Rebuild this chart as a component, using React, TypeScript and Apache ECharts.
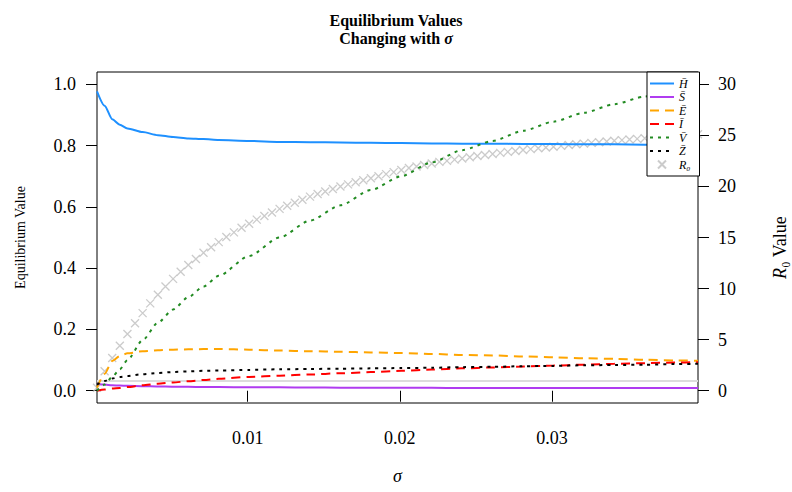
import React, { useEffect, useRef } from "react";
import * as echarts from "echarts";

// sigma grid for the R0 markers
const sigma = [
  0.0001, 0.0006, 0.0011, 0.0016, 0.0021, 0.0026, 0.0031, 0.0036, 0.0041, 0.0046,
  0.0051, 0.0056, 0.0061, 0.0066, 0.0071, 0.0076, 0.0081, 0.0086, 0.0091, 0.0096,
  0.0101, 0.0106, 0.0111, 0.0116, 0.0121, 0.0126, 0.0131, 0.0136, 0.0141, 0.0146,
  0.0151, 0.0156, 0.0161, 0.0166, 0.0171, 0.0176, 0.0181, 0.0186, 0.0191, 0.0196,
  0.0201, 0.0206, 0.0211, 0.0216, 0.0221, 0.0226, 0.0231, 0.0236, 0.0241, 0.0246,
  0.0251, 0.0256, 0.0261, 0.0266, 0.0271, 0.0276, 0.0281, 0.0286, 0.0291, 0.0296,
  0.0301, 0.0306, 0.0311, 0.0316, 0.0321, 0.0326, 0.0331, 0.0336, 0.0341, 0.0346,
  0.0351, 0.0356, 0.0361, 0.0366, 0.0371, 0.0376, 0.0381, 0.0386, 0.0391, 0.0396,
];
const R0 = [
  0.3, 1.9, 3.2, 4.4, 5.55, 6.6, 7.6, 8.55, 9.4, 10.2,
  10.95, 11.65, 12.3, 12.9, 13.5, 14.05, 14.55, 15.05, 15.5, 15.95,
  16.35, 16.75, 17.1, 17.45, 17.8, 18.1, 18.4, 18.7, 19.0, 19.25,
  19.5, 19.75, 20.0, 20.2, 20.4, 20.6, 20.8, 21.0, 21.2, 21.4,
  21.6, 21.8, 21.95, 22.1, 22.25, 22.4, 22.5, 22.62, 22.74, 22.86,
  22.97, 23.08, 23.18, 23.28, 23.38, 23.47, 23.56, 23.65, 23.73, 23.81,
  23.89, 23.97, 24.05, 24.12, 24.19, 24.26, 24.33, 24.4, 24.47, 24.53,
  24.59, 24.65, 24.71, 24.77, 24.83, 24.89, 24.94, 25.0, 25.05, 25.1,
];

// sigma grid for the equilibrium curves
const sigmaLine = [
  0.0001, 0.0006, 0.0011, 0.0016, 0.0021, 0.0031, 0.0041, 0.0051, 0.0061, 0.0071,
  0.0081, 0.0101, 0.0121, 0.0141, 0.0161, 0.0181, 0.0201, 0.0221, 0.0241, 0.0261,
  0.0281, 0.0301, 0.0321, 0.0341, 0.0361, 0.0381, 0.0396,
];
const Hbar = [0.977, 0.93, 0.886, 0.868, 0.856, 0.844, 0.834, 0.828, 0.823, 0.821, 0.818, 0.815, 0.812, 0.811, 0.81, 0.809, 0.808, 0.807, 0.806, 0.806, 0.805, 0.805, 0.804, 0.804, 0.803, 0.803, 0.803];
const Sbar = [0.023, 0.02, 0.018, 0.017, 0.016, 0.015, 0.014, 0.013, 0.013, 0.012, 0.012, 0.011, 0.011, 0.0105, 0.01, 0.01, 0.0095, 0.0094, 0.0093, 0.0092, 0.0091, 0.009, 0.009, 0.0089, 0.0089, 0.0088, 0.0088];
const Ebar = [0.01, 0.055, 0.097, 0.113, 0.122, 0.129, 0.132, 0.134, 0.135, 0.136, 0.136, 0.134, 0.131, 0.129, 0.127, 0.125, 0.123, 0.12, 0.117, 0.115, 0.112, 0.109, 0.106, 0.104, 0.101, 0.099, 0.098];
const Ibar = [0, 0.004, 0.007, 0.009, 0.012, 0.018, 0.023, 0.027, 0.031, 0.035, 0.039, 0.045, 0.049, 0.053, 0.057, 0.061, 0.065, 0.069, 0.073, 0.076, 0.079, 0.082, 0.085, 0.088, 0.09, 0.092, 0.093];
const Vbar = [0, 0.02, 0.045, 0.07, 0.1, 0.165, 0.222, 0.265, 0.305, 0.34, 0.375, 0.44, 0.5, 0.555, 0.605, 0.655, 0.7, 0.745, 0.785, 0.815, 0.848, 0.878, 0.907, 0.935, 0.96, 0.983, 1.0];
const Zbar = [0.02, 0.032, 0.04, 0.045, 0.048, 0.054, 0.058, 0.061, 0.063, 0.065, 0.066, 0.068, 0.07, 0.071, 0.072, 0.073, 0.074, 0.075, 0.077, 0.078, 0.08, 0.081, 0.083, 0.084, 0.085, 0.087, 0.088];

const xTicks = [0.01, 0.02, 0.03];
const yLeftTicks = [0, 0.2, 0.4, 0.6, 0.8, 1.0];
const yRightTicks = [0, 5, 10, 15, 20, 25, 30];

const NAMES = ["H\u0304", "S\u0304", "E\u0304", "I\u0304", "V\u0304", "Z\u0304", "R\u2080"];
const FONT = "Liberation Serif";

const zip = (xs: number[], ys: number[]) => xs.map((x, i) => [x, ys[i]]);

function lineSeries(name: string, ys: number[], color: string, type: any) {
  return {
    name,
    type: "line",
    xAxisIndex: 0,
    yAxisIndex: 0,
    data: zip(sigmaLine, ys),
    symbol: "none",
    showSymbol: false,
    smooth: 0.25,
    smoothMonotone: "x",
    z: 3,
    itemStyle: { color },
    lineStyle: { color, width: 2, type },
  };
}

export default function App() {
  const ref = useRef<HTMLDivElement>(null);
  useEffect(() => {
    const chart = echarts.init(ref.current!, null, { renderer: "svg" });
    const axisLabelBase = { fontFamily: FONT, fontSize: 18, color: "#000" };
    const legendData = NAMES.map((n, i) =>
      i < 6 ? { name: n, itemStyle: { opacity: 0 } } : { name: n }
    );
    const option: any = {
      animation: false,
      backgroundColor: "#fff",
      title: {
        left: "center",
        top: 6,
        text: "{b|Equilibrium Values}\n{b|Changing with }{i|\u03c3}",
        textStyle: {
          rich: {
            b: { fontFamily: FONT, fontWeight: "bold", fontSize: 16, lineHeight: 18, color: "#000" },
            i: { fontFamily: FONT, fontStyle: "italic", fontSize: 16, lineHeight: 18, color: "#000" },
          },
        },
      },
      grid: {
        left: 97,
        right: 94,
        top: 72,
        bottom: 89,
        show: true,
        borderColor: "#000",
        borderWidth: 1,
        backgroundColor: "transparent",
        outerBoundsMode: "none",
        containLabel: false,
      },
      legend: {
        orient: "vertical",
        left: 647,
        top: 72,
        padding: [5, 9, 5, 2],
        itemGap: 0.5,
        itemWidth: 24,
        itemHeight: 8,
        backgroundColor: "#fff",
        borderColor: "#000",
        borderWidth: 1,
        borderRadius: 0,
        z: 10,
        data: legendData,
        textStyle: { fontFamily: FONT, fontStyle: "italic", fontSize: 12, lineHeight: 13, color: "#000" },
      },
      xAxis: {
        type: "value",
        min: 0.0001,
        max: 0.0396,
        name: "\u03c3",
        nameLocation: "middle",
        nameGap: 64,
        nameTextStyle: { fontFamily: FONT, fontStyle: "italic", fontSize: 18, color: "#000" },
        axisLine: { show: false },
        splitLine: { show: false },
        axisTick: { show: true, length: 11, customValues: xTicks, lineStyle: { color: "#000", width: 1 } },
        axisLabel: {
          ...axisLabelBase,
          margin: 26,
          customValues: xTicks,
          formatter: (v: number) => v.toFixed(2),
        },
      },
      yAxis: [
        {
          type: "value",
          min: -0.04,
          max: 1.04,
          position: "left",
          name: "Equilibrium Value",
          nameLocation: "middle",
          nameRotate: 90,
          nameGap: 70,
          nameTextStyle: { fontFamily: FONT, fontSize: 14, color: "#000" },
          axisLine: { show: false },
          splitLine: { show: false },
          axisTick: { show: true, length: 11, customValues: yLeftTicks, lineStyle: { color: "#000", width: 1 } },
          axisLabel: {
            ...axisLabelBase,
            margin: 21,
            customValues: yLeftTicks,
            formatter: (v: number) => v.toFixed(1),
          },
        },
        {
          type: "value",
          min: -1.2,
          max: 31.2,
          position: "right",
          name: "{i|R}{n|\u2080 Value}",
          nameLocation: "middle",
          nameRotate: 90,
          nameGap: 73,
          nameTextStyle: {
            color: "#000",
            padding: [0, 20, 0, 0],
            rich: {
              i: { fontFamily: FONT, fontStyle: "italic", fontSize: 18, color: "#000" },
              n: { fontFamily: FONT, fontSize: 18, color: "#000" },
            },
          },
          axisLine: { show: false },
          splitLine: { show: false },
          axisTick: { show: true, length: 11, customValues: yRightTicks, lineStyle: { color: "#000", width: 1 } },
          axisLabel: {
            ...axisLabelBase,
            margin: 20,
            customValues: yRightTicks,
          },
        },
      ],
      series: [
        {
          name: NAMES[6],
          type: "scatter",
          xAxisIndex: 0,
          yAxisIndex: 1,
          data: zip(sigma, R0),
          symbol: "path://M0,0L10,10M10,0L0,10",
          symbolSize: 8,
          z: 2,
          itemStyle: { color: "transparent", borderColor: "#bebebe", borderWidth: 1.3 },
          markLine: {
            silent: true,
            symbol: ["none", "none"],
            label: { show: false },
            lineStyle: { color: "#dcdcdc", width: 2, type: "solid" },
            data: [{ yAxis: 1 }],
            z: 1,
          },
        },
        lineSeries(NAMES[0], Hbar, "#1e90ff", "solid"),
        lineSeries(NAMES[1], Sbar, "#b03cf0", "solid"),
        lineSeries(NAMES[2], Ebar, "#ffa500", [9, 6]),
        lineSeries(NAMES[3], Ibar, "#ff0000", [9, 6]),
        lineSeries(NAMES[4], Vbar, "#228b22", [3, 5]),
        lineSeries(NAMES[5], Zbar, "#000000", [3, 5]),
      ],
    };
    chart.setOption(option);
    return () => chart.dispose();
  }, []);
  return (
    <div
      ref={ref}
      style={{ position: "fixed", left: 0, top: 0, width: 792, height: 492 }}
    />
  );
}
